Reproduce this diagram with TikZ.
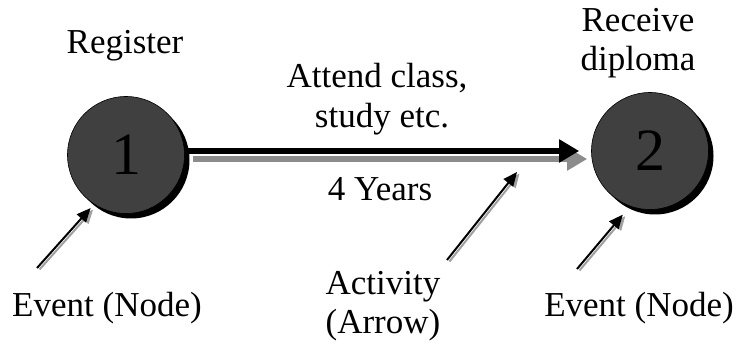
\documentclass[tikz,border=0pt]{standalone}
\usepackage{fontspec}
\setmainfont{Liberation Serif}
\usetikzlibrary{arrows.meta,shadows}
\definecolor{eventfill}{HTML}{404040}
\definecolor{actshadow}{HTML}{8C8C8C}
\definecolor{ptrshadow}{HTML}{A0A0A0}
\begin{document}
\begin{tikzpicture}[x=1pt,y=-1pt,
  event/.style={circle, draw=black, line width=0.6pt, fill=eventfill,
    minimum size=117pt, inner sep=0pt, font=\fontsize{60}{62}\selectfont,
    drop shadow={fill=black, opacity=1, shadow xshift=5pt, shadow yshift=-5pt}},
  txt/.style={anchor=base, inner sep=0pt, font=\fontsize{35}{40}\selectfont},
  activity/.style={line width=6.5pt, -{Triangle[length=20pt,width=22pt]}, shorten >=12pt},
  pointer/.style={line width=2pt, -{Triangle[length=14pt,width=12pt]}},
  ptrshade/.style={pointer, draw=ptrshadow, transform canvas={xshift=2.5pt,yshift=-1.5pt}},
]
\useasboundingbox (0,0) rectangle (736,344);

% events
\node[event] (n1) at (126,155) {1};
\node[event] (n2) at (650,151) {2};

% activity arrow with its offset shadow
\draw[activity, draw=actshadow, transform canvas={xshift=8pt,yshift=-8pt}]
  (n1.east |- n2.west) -- (n2.west);
\draw[activity] (n1.east |- n2.west) -- (n2.west);

% free ends of the pointer arrows
\coordinate (t1) at (37,268);
\coordinate (t2) at (447,260);
\coordinate (h2) at (517,172);
\coordinate (t3) at (577,269);

% pointers (shadow first, then black)
\draw[ptrshade, shorten >=5pt] (t1) -- (n1.237);
\draw[pointer, shorten >=5pt] (t1) -- (n1.237);
\draw[ptrshade] (t2) -- (h2);
\draw[pointer] (t2) -- (h2);
\draw[ptrshade, shorten >=11pt] (t3) -- (n2.250);
\draw[pointer, shorten >=11pt] (t3) -- (n2.250);

% labels
\node[txt] (reg)  at (125,54)  {Register};
\node[txt] (att1) at (377,88)  {Attend class,};
\node[txt] (att2) at (382,128) {study etc.};
\node[txt] (dur)  at (380,201) {4 Years};
\node[txt] (rec1) at (638,32)  {Receive};
\node[txt] (rec2) at (638,71)  {diploma};
\node[txt] (act1) at (383,295) {Activity};
\node[txt] (act2) at (383,334) {(Arrow)};
\node[txt] (ev1)  at (107,317) {Event (Node)};
\node[txt] (ev2)  at (639,317) {Event (Node)};
\end{tikzpicture}
\end{document}
